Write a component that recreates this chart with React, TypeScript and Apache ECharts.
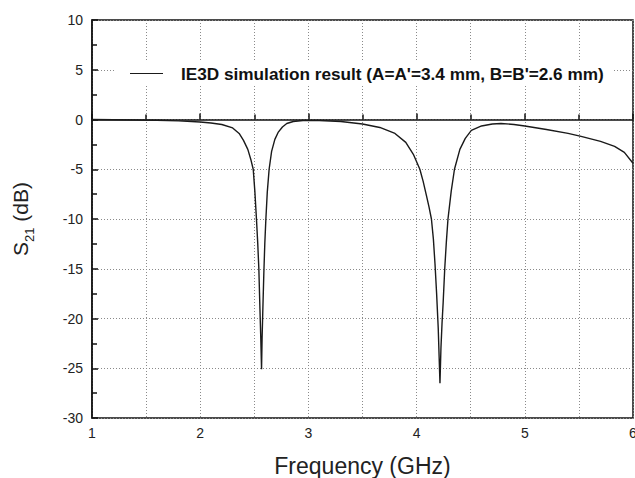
import React, { useEffect, useRef } from "react";
import * as echarts from "echarts";

const freqGHz: number[] = [
  1.0, 1.2, 1.4, 1.6, 1.8, 2.0, 2.1, 2.2, 2.3, 2.36, 2.4, 2.44, 2.47, 2.49, 2.505, 2.52, 2.532, 2.542, 2.552, 2.56, 2.567,
  2.572, 2.578, 2.588, 2.597, 2.607, 2.62, 2.637, 2.66, 2.69, 2.72, 2.76, 2.8, 2.86, 2.95, 3.1, 3.3, 3.5, 3.66, 3.8, 3.9, 3.97,
  4.03, 4.06, 4.09, 4.115, 4.137, 4.155, 4.17, 4.185, 4.2, 4.216, 4.225, 4.235, 4.245, 4.26, 4.275, 4.29, 4.32, 4.35, 4.4,
  4.45, 4.506, 4.6, 4.7, 4.78, 4.9, 5.0, 5.2, 5.4, 5.52, 5.7, 5.83, 5.92, 6.0,
];
const s21dB: number[] = [
  0, -0.02, -0.05, -0.08, -0.14, -0.25, -0.35, -0.5, -0.85, -1.4, -2.1, -3.0, -4.1, -5.0, -7.2, -10, -12.5, -15, -19, -22, -25.1,
  -22, -19.5, -15.5, -12.5, -10, -7.3, -5, -3.2, -2.0, -1.3, -0.75, -0.4, -0.2, -0.1, -0.1, -0.2, -0.45, -0.8, -1.4, -2.3, -3.5,
  -5, -6.2, -7.6, -8.8, -10, -12, -14.5, -17.5, -21, -26.5, -23, -20.5, -18.5, -15, -12.3, -10, -7.2, -5, -3.0,
  -1.9, -1.1, -0.65, -0.45, -0.4, -0.5, -0.65, -1.0, -1.4, -1.7, -2.2, -2.7, -3.3, -4.4,
];
const seriesName = "IE3D simulation result (A=A'=3.4 mm, B=B'=2.6 mm)";
const xLabelTicks: number[] = [1, 2, 3, 4, 5, 6];
const yTicks: number[] = [-30, -25, -20, -15, -10, -5, 0, 5, 10];

const FONT = "Liberation Sans, Arial, sans-serif";

export default function App() {
  const ref = useRef<HTMLDivElement>(null);
  useEffect(() => {
    if (!ref.current) return;
    const chart = echarts.init(ref.current, undefined, { renderer: "svg" });
    const data = freqGHz.map((f, i) => [f, s21dB[i]]);
    const dotted = { color: "#8a8a8a", type: [1, 2] as any, width: 1 };
    chart.setOption({
      animation: false,
      backgroundColor: "#fff",
      grid: {
        left: 92,
        right: 2,
        top: 20,
        bottom: 60,
        containLabel: false,
        outerBoundsMode: "none",
        show: true,
        borderColor: "#111",
        borderWidth: 1.5,
        backgroundColor: "transparent",
      },
      legend: {
        show: true,
        left: 115,
        top: 61,
        padding: [4, 9, 4, 15],
        backgroundColor: "#fff",
        itemWidth: 33,
        itemHeight: 10,
        textStyle: {
          fontFamily: FONT,
          fontWeight: "bold",
          fontSize: 17.2,
          color: "#111",
          padding: [0, 0, 0, 13],
        },
        data: [{ name: seriesName, icon: "path://M0,0 L33,0 L33,1 L0,1 Z" }],
      },
      xAxis: {
        type: "value",
        min: xLabelTicks[0],
        max: xLabelTicks[xLabelTicks.length - 1],
        interval: 1,
        name: "Frequency (GHz)",
        nameLocation: "middle",
        nameGap: 36,
        nameTextStyle: { fontFamily: FONT, fontSize: 23, color: "#222" },
        axisLine: { show: true, lineStyle: { color: "#111", width: 1.5 } },
        axisTick: { show: true, inside: true, length: 6, lineStyle: { color: "#111", width: 1.5 } },
        minorTick: { show: true, splitNumber: 2, length: 5, lineStyle: { color: "#111", width: 1.5 } },
        axisLabel: { fontFamily: FONT, fontSize: 14, color: "#222", margin: 8 },
        splitLine: { show: true, lineStyle: dotted },
        minorSplitLine: { show: true, lineStyle: dotted },
      },
      yAxis: {
        type: "value",
        min: yTicks[0],
        max: yTicks[yTicks.length - 1],
        interval: 5,
        name: "{a|S}{b|21}{a| (dB)}",
        nameLocation: "middle",
        nameRotate: 90,
        nameGap: 56,
        nameTextStyle: {
          fontFamily: FONT,
          fontSize: 21,
          color: "#222",
          rich: {
            a: { fontFamily: FONT, fontSize: 21, color: "#222", lineHeight: 31 },
            b: { fontFamily: FONT, fontSize: 13, color: "#222", lineHeight: 14, verticalAlign: "bottom" },
          },
        },
        axisLine: { show: true, lineStyle: { color: "#111", width: 1.5 } },
        axisTick: { show: true, inside: true, length: 6, lineStyle: { color: "#111", width: 1.5 } },
        minorTick: { show: true, splitNumber: 2, length: 5, lineStyle: { color: "#111", width: 1.5 } },
        axisLabel: { fontFamily: FONT, fontSize: 14, color: "#222", margin: 9 },
        splitLine: { show: true, lineStyle: dotted },
      },
      series: [
        {
          name: seriesName,
          type: "line",
          data,
          showSymbol: false,
          symbol: "none",
          smooth: false,
          lineStyle: { color: "#1a1a1a", width: 1.4 },
          itemStyle: { color: "#1a1a1a" },
          z: 3,
        },
      ],
    });
    return () => chart.dispose();
  }, []);
  return (
    <div
      ref={ref}
      style={{ position: "fixed", left: 0, top: 0, width: 635, height: 478, background: "#fff" }}
    />
  );
}
